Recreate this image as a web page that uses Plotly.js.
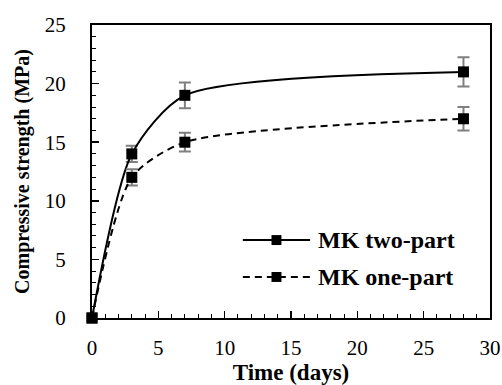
<!DOCTYPE html>
<html>
<head>
<meta charset="utf-8">
<script src="https://cdn.plot.ly/plotly-3.0.1.min.js"></script>
<style>
  html, body { margin: 0; padding: 0; background: #fff; }
  #chart { width: 502px; height: 385px; }
</style>
</head>
<body>
<div id="chart"></div>
<script>
// Curing age (days)
const days = [0, 3, 7, 28];

// Compressive strength (MPa) and standard deviation
const twoPartStrength = [0, 14, 19, 21];
const twoPartError = [0, 0.7, 1.1, 1.25];
const onePartStrength = [0, 12, 15, 17];
const onePartError = [0, 0.7, 0.8, 1.0];

const seriesNames = ['MK two-part', 'MK one-part'];

const FONT = 'Liberation Serif, Times New Roman, serif';
const DASH = '7px,5px';

function series(y, err, dash, name) {
  return {
    x: days,
    y: y,
    name: name,
    type: 'scatter',
    mode: 'lines+markers',
    cliponaxis: false,
    showlegend: false,
    line: { color: '#000', width: 2, dash: dash, shape: 'spline', smoothing: 0.7 },
    marker: { symbol: 'square', size: 11, color: '#000' },
    error_y: { type: 'data', array: err, visible: true, color: '#7f7f7f', thickness: 2, width: 6 }
  };
}

const traces = [
  series(twoPartStrength, twoPartError, 'solid', seriesNames[0]),
  series(onePartStrength, onePartError, DASH, seriesNames[1])
];

// Legend drawn inside the plot area (paper coordinates)
const legendRows = [
  { y: 0.266, dash: 'solid', text: seriesNames[0] },
  { y: 0.140, dash: DASH, text: seriesNames[1] }
];
const lx0 = 0.379, lx1 = 0.548, lmx = 0.4635, mw = 0.0125, mh = 0.017;
const shapes = [];
const annotations = [];
legendRows.forEach(r => {
  shapes.push({ type: 'line', xref: 'paper', yref: 'paper', x0: lx0, x1: lx1, y0: r.y, y1: r.y,
    line: { color: '#000', width: 2, dash: r.dash } });
  shapes.push({ type: 'rect', xref: 'paper', yref: 'paper', x0: lmx - mw, x1: lmx + mw,
    y0: r.y - mh, y1: r.y + mh, fillcolor: '#000', line: { width: 0 } });
  annotations.push({ xref: 'paper', yref: 'paper', x: 0.562, y: r.y, xanchor: 'left', yanchor: 'middle',
    text: '<b>' + r.text + '</b>', showarrow: false, font: { family: FONT, size: 24, color: '#000' } });
});

const layout = {
  width: 502,
  height: 385,
  margin: { l: 92, r: 12, t: 25, b: 67 },
  paper_bgcolor: '#fff',
  plot_bgcolor: '#fff',
  font: { family: FONT, color: '#000' },
  showlegend: false,
  xaxis: {
    range: [0, 30],
    dtick: 5,
    tick0: 0,
    showgrid: false,
    zeroline: false,
    showline: true,
    mirror: true,
    linecolor: '#000',
    linewidth: 2,
    ticks: 'inside',
    ticklen: 7,
    tickwidth: 1.5,
    tickcolor: '#000',
    ticklabelstandoff: 10,
    minor: { dtick: 1, ticks: 'inside', ticklen: 4, tickwidth: 1, tickcolor: '#000', showgrid: false },
    tickfont: { family: FONT, size: 21, color: '#000' },
    title: { text: '<b>Time (days)</b>', font: { family: FONT, size: 23, color: '#000' }, standoff: 0 }
  },
  yaxis: {
    range: [0, 25],
    dtick: 5,
    tick0: 0,
    showgrid: false,
    zeroline: false,
    showline: true,
    mirror: true,
    linecolor: '#000',
    linewidth: 2,
    ticks: 'inside',
    ticklen: 7,
    tickwidth: 1.5,
    tickcolor: '#000',
    ticklabelstandoff: 20,
    minor: { dtick: 1, ticks: 'inside', ticklen: 4, tickwidth: 1, tickcolor: '#000', showgrid: false },
    tickfont: { family: FONT, size: 21, color: '#000' },
    title: { text: '<b>Compressive strength (MPa)</b>', font: { family: FONT, size: 20, color: '#000' }, standoff: 10 }
  },
  shapes: shapes,
  annotations: annotations
};

Plotly.newPlot('chart', traces, layout, { displayModeBar: false, staticPlot: true });
</script>
</body>
</html>
